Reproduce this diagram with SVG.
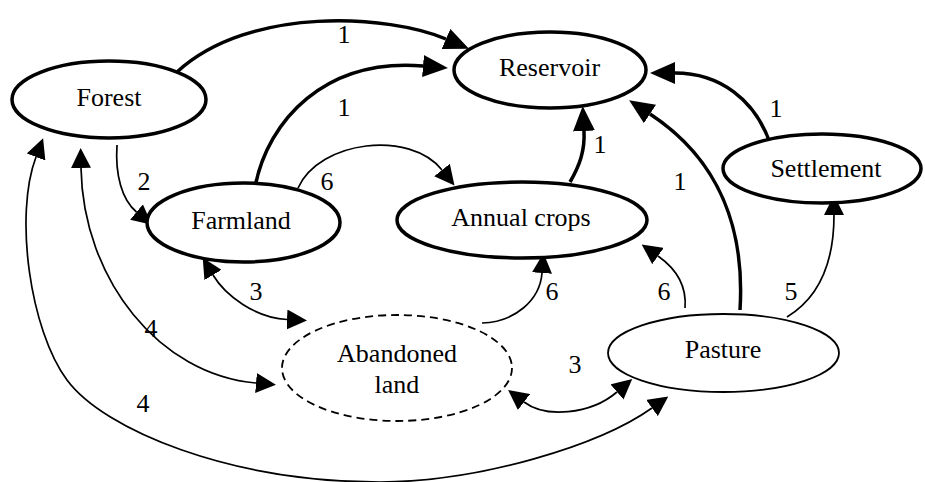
<svg xmlns="http://www.w3.org/2000/svg" width="925" height="482" viewBox="0 0 925 482">
<style>
.n{fill:#fff;stroke:#000;stroke-width:3.5}
.nt{fill:#fff;stroke:#000;stroke-width:1.8}
.nd{fill:#fff;stroke:#000;stroke-width:1.8;stroke-dasharray:8 5}
text{font-family:"Liberation Serif","Times New Roman",serif;font-size:26px;fill:#000;text-anchor:middle}
.ek{fill:none;stroke:#000;stroke-width:3.5;marker-end:url(#ak)}
.et{fill:none;stroke:#000;stroke-width:1.7;marker-end:url(#at)}
.eb{fill:none;stroke:#000;stroke-width:1.7;marker-end:url(#at);marker-start:url(#at)}
</style>
<defs>
<marker id="ak" markerUnits="userSpaceOnUse" viewBox="0 0 25 22" markerWidth="25" markerHeight="22" refX="0" refY="11" orient="auto-start-reverse"><path d="M0,0 L25,11 L0,22 z" fill="#000"/></marker>
<marker id="at" markerUnits="userSpaceOnUse" viewBox="0 0 20 20" markerWidth="20" markerHeight="20" refX="0" refY="10" orient="auto-start-reverse"><path d="M0,0 L20,10 L0,20 z" fill="#000"/></marker>
</defs>
<g id="edges">
<path class="ek" d="M177,72 C250,5 390,15 446,39"/>
<path class="ek" d="M255,187 C268,120 325,58 423,66"/>
<path class="et" d="M117,145 C115,175 122,200 136.5,212"/>
<path class="et" d="M298,188 C320,140 410,130 442,170"/>
<path class="ek" d="M570,182 C580,165 585,150 584,131"/>
<path class="ek" d="M740,310 C745,230 720,160 650,114"/>
<path class="ek" d="M770,143 C755,100 720,73 675,73"/>
<path class="et" d="M787,317 C815,300 834,270 834,215"/>
<path class="et" d="M685,308 C687,285 675,268 658,256"/>
<path class="et" d="M482,323 C515,322 540,300 542,273"/>
<path class="eb" d="M213,275 C225,295 255,318 287,319.5"/>
<path class="eb" d="M524,402 C545,418 590,415 617,392"/>
<path class="eb" d="M81,168 C83,280 160,375 256,383"/>
<path class="eb" d="M36,157 C14,215 30,330 67,380 C104,430 230,482 380,482 C480,482 600,445 652,408"/>
<text x="344" y="43">1</text>
<text x="344" y="116">1</text>
<text x="144" y="190">2</text>
<text x="327" y="190">6</text>
<text x="600" y="153">1</text>
<text x="680" y="190">1</text>
<text x="776" y="117">1</text>
<text x="791" y="300">5</text>
<text x="664" y="300">6</text>
<text x="552" y="300">6</text>
<text x="256" y="300">3</text>
<text x="575" y="373">3</text>
<text x="151" y="337">4</text>
<text x="143" y="412">4</text>
</g>
<g id="forest"><ellipse class="n" cx="109" cy="99.5" rx="97" ry="38.5"/><text x="109" y="106">Forest</text></g>
<g id="farmland"><ellipse class="n" cx="243.5" cy="222.5" rx="96.5" ry="39.5"/><text x="241" y="229">Farmland</text></g>
<g id="reservoir"><ellipse class="n" cx="550" cy="70" rx="96" ry="38"/><text x="549.5" y="76">Reservoir</text></g>
<g id="settlement"><ellipse class="n" cx="822" cy="168.5" rx="99" ry="34.5"/><text x="826" y="177">Settlement</text></g>
<g id="annual-crops"><ellipse class="n" cx="522" cy="220" rx="125" ry="38"/><text x="521" y="226">Annual crops</text></g>
<g id="pasture"><ellipse class="nt" cx="723.5" cy="353" rx="115.5" ry="39"/><text x="723" y="358">Pasture</text></g>
<g id="abandoned-land"><ellipse class="nd" cx="397" cy="368" rx="115" ry="53"/><text x="397" y="362">Abandoned</text><text x="397" y="393">land</text></g>
</svg>
